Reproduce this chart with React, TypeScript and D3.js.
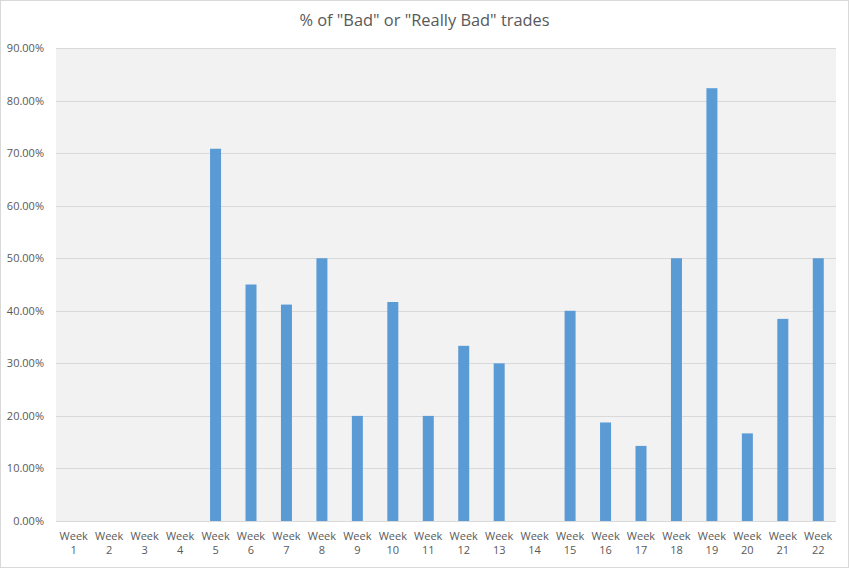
import React, { useEffect, useRef } from 'react';
import * as d3 from 'd3';

const weeks = ['1', '2', '3', '4', '5', '6', '7', '8', '9', '10', '11', '12', '13', '14', '15', '16', '17', '18', '19', '20', '21', '22'];
const badShare = [0, 0, 0, 0, 0.7083, 0.45, 0.4118, 0.5, 0.2, 0.4167, 0.2, 0.3333, 0.3, 0, 0.4, 0.1875, 0.1429, 0.5, 0.8235, 0.1667, 0.3846, 0.5];
const yTicks = [0, 0.1, 0.2, 0.3, 0.4, 0.5, 0.6, 0.7, 0.8, 0.9];

const App = () => {
  const svgRef = useRef<SVGSVGElement>(null);
  const totalWidth = 849;
  const totalHeight = 568;
  const margin = { top: 48, right: 13, bottom: 47, left: 56 };
  const width = totalWidth - margin.left - margin.right;
  const height = totalHeight - margin.top - margin.bottom;

  useEffect(() => {
    document.body.style.margin = '0';
    const root = d3.select(svgRef.current);
    root.selectAll('*').remove();
    root.attr('width', totalWidth).attr('height', totalHeight);

    root.append('rect')
      .attr('x', 0.5).attr('y', 0.5)
      .attr('width', totalWidth - 1).attr('height', totalHeight - 1)
      .attr('fill', 'white').attr('stroke', '#d9d9d9');

    root.append('text')
      .attr('x', totalWidth / 2).attr('y', 26)
      .attr('text-anchor', 'middle')
      .attr('font-family', 'Open Sans, sans-serif')
      .attr('font-size', 16.4)
      .attr('fill', '#595959')
      .text('% of "Bad" or "Really Bad" trades');

    const svg = root.append('g').attr('transform', `translate(${margin.left},${margin.top})`);

    svg.append('rect').attr('width', width).attr('height', height).attr('fill', '#f2f2f2');

    const x = d3.scaleBand().domain(weeks).range([0, width]).paddingInner(0.69).paddingOuter(0.345);
    const y = d3.scaleLinear().domain([0, 0.9]).range([height, 0]);

    // gridlines
    svg.append('g')
      .selectAll('line')
      .data(yTicks)
      .enter().append('line')
      .attr('x1', 0).attr('x2', width)
      .attr('y1', d => Math.round(y(d)) + 0.5).attr('y2', d => Math.round(y(d)) + 0.5)
      .attr('stroke', '#d9d9d9');

    // y labels
    svg.append('g')
      .selectAll('text')
      .data(yTicks)
      .enter().append('text')
      .attr('x', -12).attr('y', d => y(d) + 4)
      .attr('text-anchor', 'end')
      .attr('font-family', 'Open Sans, sans-serif')
      .attr('font-size', 11)
      .attr('fill', '#595959')
      .text(d => d3.format('.2%')(d));

    // bars
    svg.append('g')
      .selectAll('rect')
      .data(badShare)
      .enter().append('rect')
      .attr('x', (d, i) => x(weeks[i]) as number)
      .attr('y', d => y(d))
      .attr('width', x.bandwidth())
      .attr('height', d => height - y(d))
      .attr('fill', '#5b9bd5');

    // x labels
    const labels = svg.append('g')
      .selectAll('text')
      .data(weeks)
      .enter().append('text')
      .attr('text-anchor', 'middle')
      .attr('font-family', 'Open Sans, sans-serif')
      .attr('font-size', 11)
      .attr('fill', '#595959');
    labels.append('tspan')
      .attr('x', d => (x(d) as number) + x.bandwidth() / 2)
      .attr('y', height + 19)
      .text('Week');
    labels.append('tspan')
      .attr('x', d => (x(d) as number) + x.bandwidth() / 2)
      .attr('y', height + 33)
      .text(d => d);
  }, []);

  return <svg ref={svgRef} style={{ display: 'block' }} />;
};

export default App;
